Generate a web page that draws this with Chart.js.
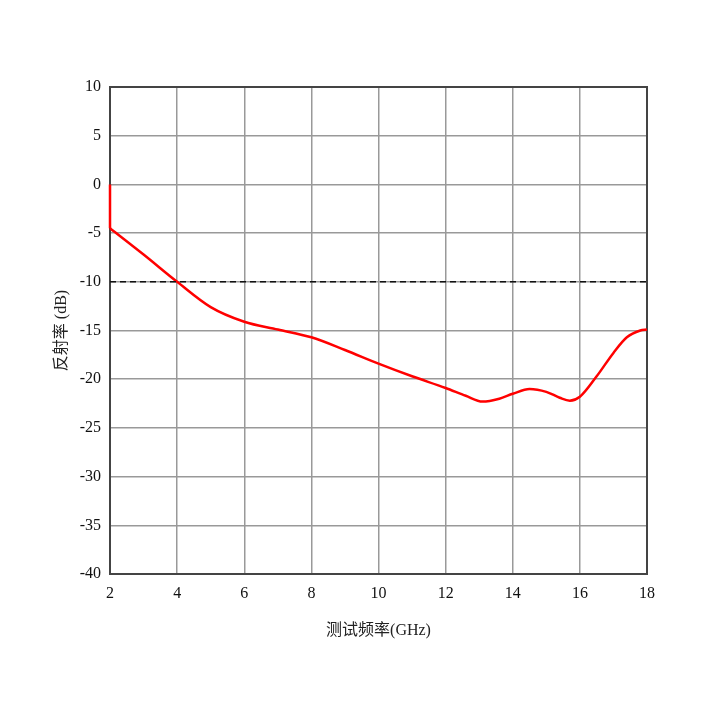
<!DOCTYPE html>
<html>
<head>
<meta charset="utf-8">
<script src="https://cdn.jsdelivr.net/npm/chart.js@4/dist/chart.umd.min.js"></script>
<style>
html,body{margin:0;padding:0;background:#fff;}
#wrap{width:720px;height:720px;}
</style>
</head>
<body>
<div id="wrap"><canvas id="c" width="720" height="720"></canvas></div>
<script>
// Frequency (GHz) and reflectivity (dB)
const freqStart = [2, 2];
const reflStart = [0, -4.5];
const freq = [2, 3, 4, 5, 6, 7, 8, 9, 10, 11, 12, 12.6, 13.1, 13.6, 14, 14.5, 15, 15.4, 15.7, 16, 16.5, 17, 17.4, 17.8, 18];
const refl = [-4.5, -7.2, -10.0, -12.6, -14.1, -14.9, -15.7, -17.0, -18.4, -19.7, -20.9, -21.7, -22.3, -22.0, -21.5, -21.0, -21.3, -21.9, -22.2, -21.8, -19.7, -17.3, -15.7, -15.0, -14.9];
const refFreq = [2, 18];
const refLevel = [-10, -10];
const xTicks = [2, 4, 6, 8, 10, 12, 14, 16, 18];
const yTicks = [10, 5, 0, -5, -10, -15, -20, -25, -30, -35, -40];
const xTitle = '测试频率(GHz)';
const yTitle = '反射率 (dB)';

const toPts = (xs, ys) => xs.map((x, i) => ({x: x, y: ys[i]}));

const frame = {
  id: 'frame',
  beforeDatasetsDraw(chart) {
    const a = chart.chartArea, ctx = chart.ctx;
    ctx.save();
    ctx.strokeStyle = '#444';
    ctx.lineWidth = 2;
    ctx.strokeRect(a.left, a.top, a.right - a.left, a.bottom - a.top);
    ctx.restore();
  }
};

const font = {family: "'Liberation Serif', 'Times New Roman', serif", size: 16};
const titleFont = {family: "'Liberation Serif', 'Noto Sans CJK SC', serif", size: 16};

new Chart(document.getElementById('c'), {
  type: 'line',
  data: {
    datasets: [
      {data: toPts(refFreq, refLevel), borderColor: '#111', borderWidth: 1.5, borderDash: [6, 4], pointRadius: 0, tension: 0},
      {data: toPts(freqStart, reflStart), borderColor: '#ff0000', borderWidth: 2.5, pointRadius: 0, tension: 0, clip: false},
      {data: toPts(freq, refl), borderColor: '#ff0000', borderWidth: 2.5, pointRadius: 0, cubicInterpolationMode: 'monotone', clip: false}
    ]
  },
  options: {
    responsive: false,
    animation: false,
    layout: {padding: {left: 40, right: 73, top: 87, bottom: 80}},
    plugins: {legend: {display: false}, tooltip: {enabled: false}},
    scales: {
      x: {
        type: 'linear', min: 2, max: 18,
        afterBuildTicks: s => { s.ticks = xTicks.map(v => ({value: v})); },
        afterFit: s => { s.height = 66; },
        grid: {color: '#999', lineWidth: 1.5, drawTicks: false},
        border: {display: false},
        ticks: {color: '#111', font: font, padding: 10},
        title: {display: true, text: xTitle, color: '#222', font: titleFont, padding: {top: 0, bottom: 0}}
      },
      y: {
        type: 'linear', min: -40, max: 10,
        afterBuildTicks: s => { s.ticks = yTicks.map(v => ({value: v})); },
        afterFit: s => { s.width = 70; },
        grid: {color: '#999', lineWidth: 1.5, drawTicks: false},
        border: {display: false},
        ticks: {color: '#111', font: font, padding: 9},
        title: {display: true, text: yTitle, color: '#222', font: titleFont, padding: {top: 12, bottom: 0}}
      }
    }
  },
  plugins: [frame]
});
</script>
</body>
</html>
